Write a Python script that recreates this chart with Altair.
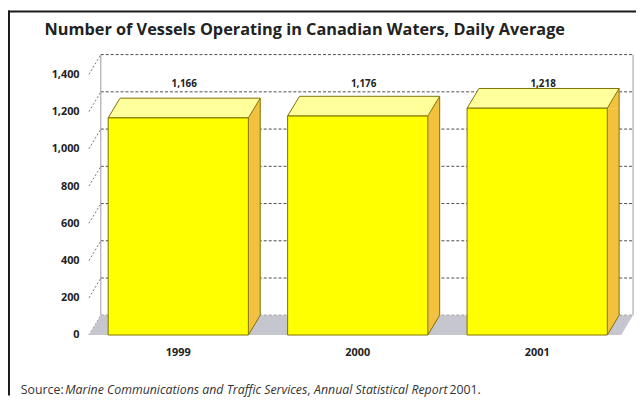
import altair as alt
import pandas as pd

# ---------------- data ----------------
years = ["1999", "2000", "2001"]
vessels = [1166, 1176, 1218]
y_ticks = [0, 200, 400, 600, 800, 1000, 1200, 1400]
title_text = "Number of Vessels Operating in Canadian Waters, Daily Average"
source_texts = ["Source:", "Marine Communications and Traffic Services", ",",
                "Annual Statistical Report", "2001."]
source_styles = ["normal", "italic", "normal", "italic", "normal"]

# ---------------- layout / style ----------------
W, H = 539, 264
DX, DY = 12, -20            # 3-D depth offset in pixels
PAD_L, PAD_T, PAD_R, PAD_B = 82, 64.7, 15, 61.3
P_IN, P_OUT, ALIGN = 0.2187, 0.0922, 0.58
step = W / (len(years) - P_IN + 2 * P_OUT)
HALF = step * (1 - P_IN) / 2

FRONT = "#FFFF00"
TOP = "#FFFF9C"
SIDE = "#F2C23E"
EDGE = "#7F7000"
FLOOR = "#C6C6CE"
GRID = "#4A4A4A"
FONT = "Open Sans"
TXT = "#222222"
SRC_FS = 12.5
source_x = [21, 66, 311, 318, 455]   # page x of each source fragment

df = pd.DataFrame({"year": years, "vessels": vessels})
grid_df = pd.DataFrame({"vessels": y_ticks})
one = pd.DataFrame({"k": [0]})

y_axis = alt.Axis(values=y_ticks, labelExpr="format(datum.value, ',')", labelOverlap=False,
                  domain=False, ticks=False, grid=False,
                  labelPadding=10, labelFont=FONT, labelFontSize=11,
                  labelFontWeight="bold", labelColor=TXT)
x_axis = alt.Axis(domain=False, ticks=False, grid=False, labelAngle=0,
                  labelPadding=12, labelFont=FONT, labelFontSize=11,
                  labelFontWeight="bold", labelColor=TXT)
X = alt.X("year:N", sort=years, title=None, axis=x_axis,
          scale=alt.Scale(paddingInner=P_IN, paddingOuter=P_OUT, align=ALIGN))
Y = alt.Y("vessels:Q", title=None, axis=y_axis,
          scale=alt.Scale(domain=[0, 1400], nice=False, zero=True))

def path_point(data, shape, fill=None, stroke=None, sw=0, dash=None):
    kw = dict(shape=shape, size=4, opacity=1, strokeWidth=sw)
    if fill is not None:
        kw.update(filled=True, fill=fill)
    else:
        kw.update(filled=False, fill="transparent")
    if stroke is not None:
        kw.update(stroke=stroke)
    if dash is not None:
        kw.update(strokeDash=dash)
    return alt.Chart(data).mark_point(**kw)

# back wall dashed gridlines
back_grid = alt.Chart(grid_df).mark_rule(
    strokeDash=[3, 2], color=GRID, strokeWidth=1, xOffset=DX, x2Offset=DX, yOffset=DY
).encode(x=alt.value(0), x2=alt.value(W), y=Y)

# back wall vertical edges
back_left = alt.Chart(one).mark_rule(color="#9A9A9A", strokeWidth=1, yOffset=DY, y2Offset=DY).encode(
    x=alt.value(DX), y=alt.value(H), y2=alt.value(0))
back_right = alt.Chart(one).mark_rule(color="#9A9A9A", strokeWidth=1, yOffset=DY, y2Offset=DY).encode(
    x=alt.value(W + DX), y=alt.value(H), y2=alt.value(0))

# left side wall slanted grid ticks
side_ticks = path_point(grid_df, f"M0,0L{DX},{DY}", stroke="#777777", sw=1, dash=[2, 2]).encode(
    x=alt.value(0), y=Y)

# floor
floor = path_point(one, f"M0,0L{W},0L{W + DX},{DY}L{DX},{DY}Z", fill=FLOOR).encode(
    x=alt.value(0), y=alt.value(H))

# right side faces of bars
side_rect = alt.Chart(df).mark_bar(width=DX, xOffset=HALF + DX / 2, y2Offset=DY, color=SIDE).encode(
    x=X, y=Y, y2=alt.value(H))
side_top = path_point(df, f"M{HALF},0L{HALF + DX},{DY}L{HALF + DX},0Z", fill=SIDE).encode(x=X, y=Y)
side_bot = path_point(df, f"M{HALF},{DY}L{HALF},0L{HALF + DX},{DY}Z", fill=SIDE).encode(
    x=X, y=alt.value(H))
side_edge = alt.Chart(df).mark_rule(color=EDGE, strokeWidth=1, xOffset=HALF + DX,
                                    yOffset=DY, y2Offset=DY).encode(x=X, y=Y, y2=alt.value(H))
side_bot_edge = path_point(df, f"M{HALF},0L{HALF + DX},{DY}", stroke=EDGE, sw=1).encode(
    x=X, y=alt.value(H))

# top faces
top_face = path_point(df, f"M{-HALF},0L{HALF},0L{HALF + DX},{DY}L{-HALF + DX},{DY}Z",
                      fill=TOP, stroke=EDGE, sw=1).encode(x=X, y=Y)

# front faces
front = alt.Chart(df).mark_bar(color=FRONT, stroke=EDGE, strokeWidth=1).encode(x=X, y=Y)

# value labels
labels = alt.Chart(df).mark_text(font=FONT, fontSize=10, fontWeight="bold", color=TXT,
                                 xOffset=DX / 2, baseline="middle").encode(
    x=X, y=alt.value(10), text=alt.Text("vessels:Q", format=","))

# title
title = alt.Chart(one).mark_text(text=title_text, font=FONT, fontSize=16.5, fontWeight="bold",
                                 color=TXT, align="left", baseline="alphabetic").encode(
    x=alt.value(45 - 8 - PAD_L), y=alt.value(33 - 8 - PAD_T))

# source line
src_layers = []
for t, s, px in zip(source_texts, source_styles, source_x):
    src_layers.append(
        alt.Chart(one).mark_text(text=t, font=FONT, fontSize=SRC_FS, fontStyle=s, color="#333333",
                                 align="left", baseline="alphabetic").encode(
            x=alt.value(px - 8 - PAD_L), y=alt.value(396 - 8 - PAD_T))
    )

# frame (top and left border)
frame_top = alt.Chart(one).mark_rule(color="#1A1A1A", strokeWidth=2).encode(
    x=alt.value(-PAD_L), x2=alt.value(W + PAD_R), y=alt.value(-PAD_T + 1))
frame_left = alt.Chart(one).mark_rule(color="#1A1A1A", strokeWidth=2).encode(
    x=alt.value(-PAD_L + 1), y=alt.value(-PAD_T), y2=alt.value(H + PAD_B))

chart = alt.layer(
    back_grid, back_left, back_right, side_ticks, floor,
    side_rect, side_top, side_bot, side_edge, side_bot_edge,
    top_face, front, labels, title, *src_layers, frame_top, frame_left
).properties(
    width=W, height=H,
    autosize=alt.AutoSizeParams(type="none"),
    padding={"left": PAD_L, "top": PAD_T, "right": PAD_R, "bottom": PAD_B},
    background="white",
).configure_view(stroke=None)

chart.save("out.html", embed_options={"renderer": "svg", "actions": False})
